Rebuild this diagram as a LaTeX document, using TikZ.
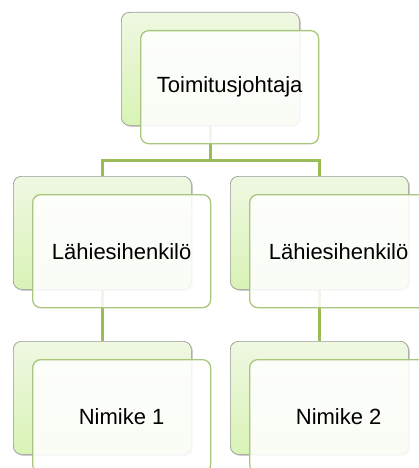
\documentclass[tikz,border=0pt]{standalone}
\usepackage{fontspec}
\setmainfont{Liberation Sans}
\usetikzlibrary{positioning,shadows}
\definecolor{backtop}{HTML}{EFF8E2}
\definecolor{backbot}{HTML}{D9F3B6}
\definecolor{frontline}{HTML}{A9C67C}
\definecolor{connline}{HTML}{9BBB59}
\tikzset{
backbox/.style={rectangle, rounded corners=8pt, minimum width=178pt, minimum height=113pt, inner sep=0pt, anchor=north west, draw=gray!80, line width=0.7pt, top color=backtop, bottom color=backbot, drop shadow={shadow xshift=1.5pt, shadow yshift=-1.5pt, opacity=0.4, fill=gray}},
frontbox/.style={rectangle, rounded corners=8pt, minimum width=178pt, minimum height=113pt, inner sep=0pt, draw=frontline, line width=1.3pt, fill=white, fill opacity=0.88, text opacity=1, font=\fontsize{22}{26}\selectfont},
conn/.style={connline, line width=3pt}
}
\begin{document}
\begin{tikzpicture}[x=1pt,y=-1pt]
\clip (0,0) rectangle (419,468);
\useasboundingbox (0,0) rectangle (419,468);
% back boxes
\node[backbox] (ceob) at (121,12) {};
\node[backbox] (mgrlb) at (13,176) {};
\node[backbox] (mgrrb) at (230,176) {};
\node[backbox] (tit1b) at (13,341) {};
\node[backbox] (tit2b) at (230,341) {};
% connectors
\draw[conn] (ceob.south) -- ++(0,35) -| (mgrlb.north);
\draw[conn] (ceob.south) -- ++(0,35) -| (mgrrb.north);
\draw[conn] (mgrlb.south) -- (tit1b.north);
\draw[conn] (mgrrb.south) -- (tit2b.north);
% front boxes
\node[frontbox, below right=18pt and 19pt of ceob.north west] (ceo) {Toimitusjohtaja};
\node[frontbox, below right=18pt and 19pt of mgrlb.north west] (mgrl) {Lähiesihenkilö};
\node[frontbox, below right=18pt and 19pt of mgrrb.north west] (mgrr) {Lähiesihenkilö};
\node[frontbox, below right=18pt and 19pt of tit1b.north west] (tit1) {Nimike 1};
\node[frontbox, below right=18pt and 19pt of tit2b.north west] (tit2) {Nimike 2};
\end{tikzpicture}
\end{document}
